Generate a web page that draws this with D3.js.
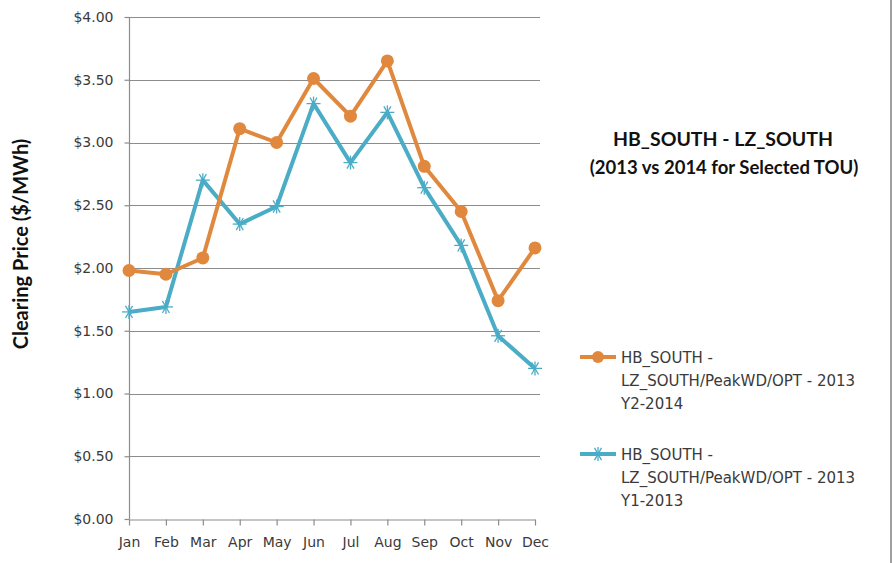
<!DOCTYPE html>
<html>
<head>
<meta charset="utf-8">
<script src="https://cdn.jsdelivr.net/npm/d3@7"></script>
<style>
  body { margin: 0; background: #fff; }
  svg { display: block; font-family: "DejaVu Sans", sans-serif; }
</style>
</head>
<body>
<div id="chart"></div>
<script>
var months = ["Jan", "Feb", "Mar", "Apr", "May", "Jun", "Jul", "Aug", "Sep", "Oct", "Nov", "Dec"];
var y2014 = [1.98, 1.95, 2.08, 3.11, 3.00, 3.51, 3.21, 3.65, 2.81, 2.45, 1.74, 2.16];
var y2013 = [1.65, 1.69, 2.70, 2.35, 2.49, 3.31, 2.84, 3.24, 2.64, 2.18, 1.46, 1.20];
var yTicks = [0, 0.5, 1, 1.5, 2, 2.5, 3, 3.5, 4];
var legendLines = [
    ["HB_SOUTH -", "LZ_SOUTH/PeakWD/OPT - 2013", "Y2-2014"],
    ["HB_SOUTH -", "LZ_SOUTH/PeakWD/OPT - 2013", "Y1-2013"]
];

var width = 893,
    height = 563,
    margin = { top: 17, left: 129, right: 358, bottom: 44 };

var orange = "#E0893E",
    blue = "#4BACC6",
    gridColor = "#8c8c8c",
    tickFont = "'DejaVu Sans', sans-serif",
    titleFont = "Lato, 'Open Sans', sans-serif";

var svg = d3.select("#chart")
    .append("svg")
    .attr("width", width)
    .attr("height", height);

// outer border on the right
svg.append("line")
    .attr("x1", 891).attr("x2", 891)
    .attr("y1", 0).attr("y2", height)
    .attr("stroke", "#a0a0a0")
    .attr("stroke-width", 2);

var x = d3.scalePoint()
    .domain(months)
    .range([margin.left, width - margin.right]);

var y = d3.scaleLinear()
    .domain([0, 4])
    .range([height - margin.bottom, margin.top]);

// gridlines
svg.append("g")
    .selectAll("line")
    .data(yTicks.slice(1))
    .join("line")
    .attr("x1", margin.left)
    .attr("x2", width - margin.right + 5)
    .attr("y1", d => Math.round(y(d)) + 0.5)
    .attr("y2", d => Math.round(y(d)) + 0.5)
    .attr("stroke", gridColor)
    .attr("stroke-width", 1.2);

// y axis
var yAxis = svg.append("g")
    .attr("transform", "translate(" + (margin.left + 0.5) + ",0)")
    .call(d3.axisLeft(y)
        .tickValues(yTicks)
        .tickSize(5)
        .tickPadding(11)
        .tickFormat(d3.format("$.2f")));

yAxis.selectAll("line, path").attr("stroke", gridColor).attr("stroke-width", 1.2);
yAxis.select(".domain").attr("d", "M0," + y(0) + "V" + y(4));
yAxis.selectAll("text")
    .style("font-size", "14px")
    .style("font-family", tickFont)
    .attr("fill", "#3a3a3a");

// x axis
var xAxis = svg.append("g")
    .attr("transform", "translate(0," + (Math.round(y(0)) + 0.5) + ")")
    .call(d3.axisBottom(x)
        .tickSize(6)
        .tickPadding(12)
        .tickSizeOuter(0));

xAxis.selectAll("line, path").attr("stroke", gridColor).attr("stroke-width", 1.2);
xAxis.selectAll("text")
    .style("font-size", "14px")
    .style("font-family", tickFont)
    .attr("fill", "#3a3a3a");

// y axis title
svg.append("text")
    .attr("transform", "translate(28," + 244 + ") rotate(-90)")
    .attr("text-anchor", "middle")
    .style("font-size", "20px")
    .style("font-weight", "700")
    .style("font-family", titleFont)
    .attr("fill", "#111")
    .text("Clearing Price ($/MWh)");

var line = d3.line()
    .x((d, i) => x(months[i]))
    .y(d => y(d));

// 2013 series (blue, star markers)
svg.append("path")
    .datum(y2013)
    .attr("fill", "none")
    .attr("stroke", blue)
    .attr("stroke-width", 4)
    .attr("stroke-linejoin", "round")
    .attr("d", line);

function star(g, cx, cy, color) {
    var r = 7;
    [0, 60, 120].forEach(function(a) {
        var rad = a * Math.PI / 180;
        g.append("line")
            .attr("x1", cx - r * Math.cos(rad)).attr("y1", cy - r * Math.sin(rad))
            .attr("x2", cx + r * Math.cos(rad)).attr("y2", cy + r * Math.sin(rad))
            .attr("stroke", color)
            .attr("stroke-width", 1.3);
    });
    g.append("line")
        .attr("x1", cx).attr("y1", cy - r)
        .attr("x2", cx).attr("y2", cy + r)
        .attr("stroke", color)
        .attr("stroke-width", 1.3);
}

var stars = svg.append("g");
y2013.forEach(function(d, i) {
    star(stars, x(months[i]), y(d), blue);
});

// 2014 series (orange, circle markers)
svg.append("path")
    .datum(y2014)
    .attr("fill", "none")
    .attr("stroke", orange)
    .attr("stroke-width", 4)
    .attr("stroke-linejoin", "round")
    .attr("d", line);

svg.append("g")
    .selectAll("circle")
    .data(y2014)
    .join("circle")
    .attr("cx", (d, i) => x(months[i]))
    .attr("cy", d => y(d))
    .attr("r", 6.5)
    .attr("fill", orange);

// title
var title = svg.append("text")
    .attr("text-anchor", "middle")
    .attr("fill", "#111")
    .style("font-family", titleFont)
    .style("font-weight", "700");

title.append("tspan")
    .attr("x", 723).attr("y", 146)
    .style("font-size", "19.5px")
    .text("HB_SOUTH - LZ_SOUTH");

title.append("tspan")
    .attr("x", 724).attr("y", 174)
    .style("font-size", "18.5px")
    .text("(2013 vs 2014  for Selected TOU)");

// legend
var legendY = [357, 454];
var legendColors = [orange, blue];

legendLines.forEach(function(lines, k) {
    var g = svg.append("g");
    var ly = legendY[k];
    g.append("line")
        .attr("x1", 580).attr("x2", 616)
        .attr("y1", ly).attr("y2", ly)
        .attr("stroke", legendColors[k])
        .attr("stroke-width", 4);
    if (k === 0) {
        g.append("circle")
            .attr("cx", 598).attr("cy", ly)
            .attr("r", 6)
            .attr("fill", orange);
    } else {
        star(g, 598, ly, blue);
    }
    g.append("text")
        .attr("fill", "#3a3a3a")
        .style("font-size", "15px")
        .style("font-family", tickFont)
        .selectAll("tspan")
        .data(lines)
        .join("tspan")
        .attr("x", 621)
        .attr("y", (d, i) => ly + 6 + i * 23)
        .text(d => d);
});
</script>
</body>
</html>
